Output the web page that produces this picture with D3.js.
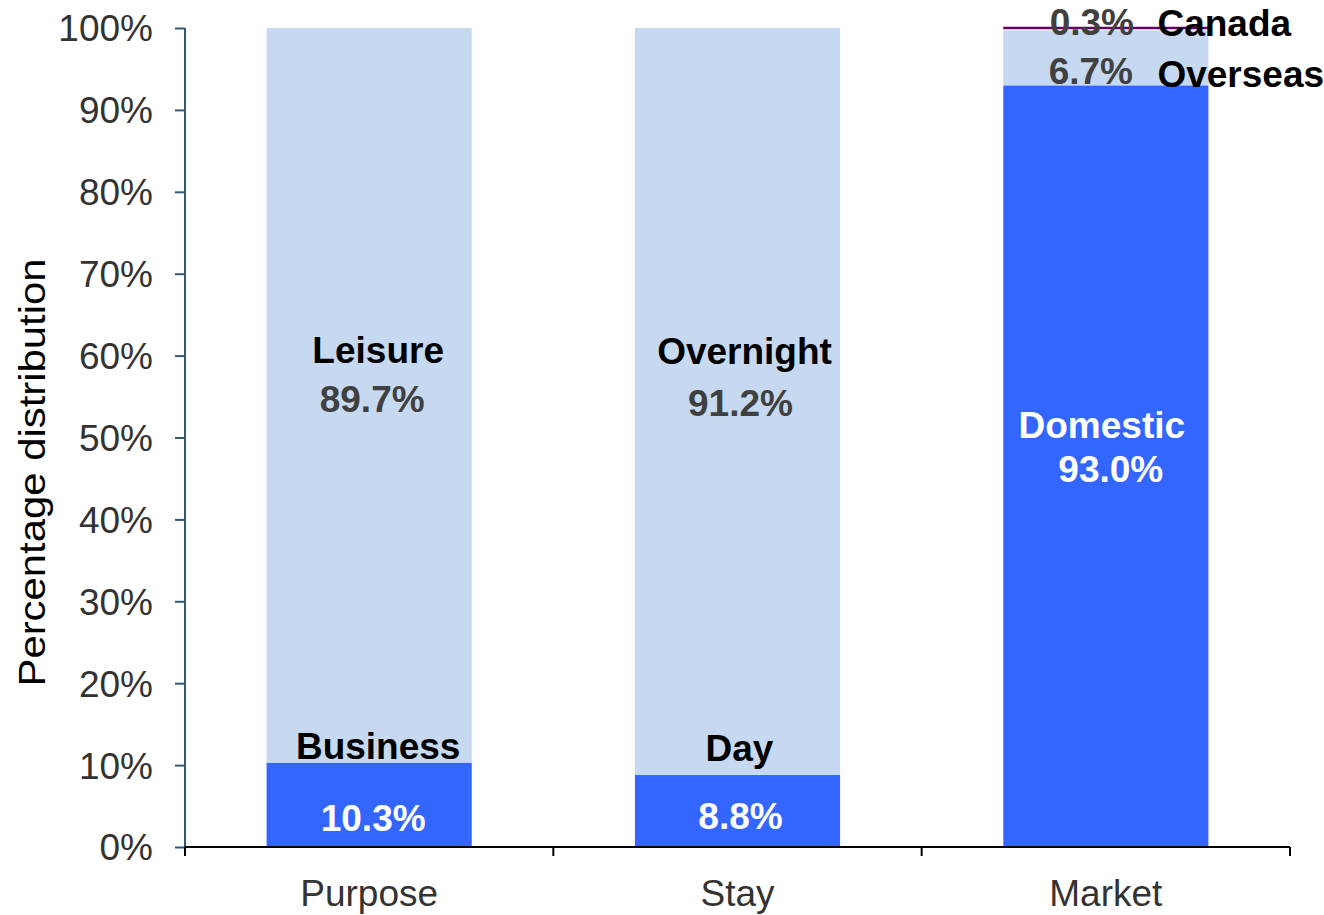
<!DOCTYPE html>
<html>
<head>
<meta charset="utf-8">
<script src="https://cdn.jsdelivr.net/npm/d3@7"></script>
<style>
  body { margin: 0; background: #fff; }
  text { font-family: "Liberation Sans", Arial, sans-serif; }
</style>
</head>
<body>
<div id="chart"></div>
<script>
// data
var categories = ["Purpose", "Stay", "Market"];
var lowerNames = ["Business", "Day", "Domestic"];
var lowerValues = [10.3, 8.8, 93.0];
var upperNames = ["Leisure", "Overnight", "Overseas"];
var upperValues = [89.7, 91.2, 6.7];
var canadaValue = 0.3;
var yTicks = [0, 10, 20, 30, 40, 50, 60, 70, 80, 90, 100];

var margin = { top: 28, right: 34, bottom: 68, left: 185 };
var width = 1324 - margin.left - margin.right;
var height = 915 - margin.top - margin.bottom;

var svg = d3.select("#chart").append("svg")
    .attr("width", 1324)
    .attr("height", 915)
    .append("g")
    .attr("transform", "translate(" + margin.left + "," + margin.top + ")");

var x = d3.scaleBand().domain(categories).range([0, width]).paddingInner(0.443).paddingOuter(0.2215);
var y = d3.scaleLinear().domain([0, 100]).range([height, 0]);

var dark = "#3366FF", light = "#C6D9F1";

// bars
categories.forEach(function(c, i) {
    svg.append("rect")
        .attr("x", x(c)).attr("width", x.bandwidth())
        .attr("y", y(lowerValues[i])).attr("height", y(0) - y(lowerValues[i]))
        .attr("fill", dark);
    svg.append("rect")
        .attr("x", x(c)).attr("width", x.bandwidth())
        .attr("y", y(lowerValues[i] + upperValues[i]))
        .attr("height", y(lowerValues[i]) - y(lowerValues[i] + upperValues[i]))
        .attr("fill", light);
});
// Canada sliver
svg.append("line")
    .attr("x1", x("Market")).attr("x2", x("Market") + x.bandwidth())
    .attr("y1", y(100)).attr("y2", y(100))
    .attr("stroke", "#660066").attr("stroke-width", 2.5);

// y axis
var yAxis = svg.append("g")
    .call(d3.axisLeft(y).tickValues(yTicks).tickSize(10).tickPadding(22).tickFormat(d => d + "%"));
yAxis.select(".domain").attr("stroke", "#2e5a78").attr("stroke-width", 2).attr("d", "M0," + y(100) + "V" + y(0));
yAxis.selectAll(".tick line").attr("stroke", "#2e5a78").attr("stroke-width", 2);
yAxis.selectAll(".tick text").attr("fill", "#333").style("font-size", "37px").attr("dy", "0.35em");

// x axis
var xAxis = svg.append("g").attr("transform", "translate(0," + height + ")");
xAxis.append("line").attr("x1", 0).attr("x2", width).attr("stroke", "#000").attr("stroke-width", 2);
[0, 1, 2, 3].forEach(function(k) {
    var px = k * (width / 3);
    xAxis.append("line").attr("x1", px).attr("x2", px).attr("y1", 0).attr("y2", 9)
        .attr("stroke", "#000").attr("stroke-width", 2);
});
categories.forEach(function(c) {
    xAxis.append("text")
        .attr("x", x(c) + x.bandwidth() / 2).attr("y", 59)
        .attr("text-anchor", "middle").attr("fill", "#333")
        .style("font-size", "37px").text(c);
});

// y title
svg.append("text")
    .attr("transform", "rotate(-90)")
    .attr("x", -(y(0) + y(100)) / 2 - 35).attr("y", -margin.left + 45)
    .attr("text-anchor", "middle").attr("fill", "#000")
    .style("font-size", "37px")
    .attr("textLength", 428).attr("lengthAdjust", "spacingAndGlyphs")
    .text("Percentage distribution");

// labels
function label(px, py, txt, fill, anchor) {
    svg.append("text").attr("x", px).attr("y", py)
        .attr("text-anchor", anchor || "middle").attr("fill", fill)
        .style("font-size", "37px").style("font-weight", "bold").text(txt);
}
var fmt = v => v.toFixed(1) + "%";
function cx(c) { return x(c) + x.bandwidth() / 2; }

// Purpose
label(cx("Purpose") + 9, y(lowerValues[0]) - 4, lowerNames[0], "#000");
label(cx("Purpose") + 4, y(0) - 16, fmt(lowerValues[0]), "#fff");
label(cx("Purpose") + 9, y(lowerValues[0] + upperValues[0] / 2) - 32, upperNames[0], "#000");
label(cx("Purpose") + 3, y(lowerValues[0] + upperValues[0] / 2) + 17, fmt(upperValues[0]), "#404040");
// Stay
label(cx("Stay") + 2, y(lowerValues[1]) - 14, lowerNames[1], "#000");
label(cx("Stay") + 3, y(0) - 18, fmt(lowerValues[1]), "#fff");
label(cx("Stay") + 7, y(lowerValues[1] + upperValues[1] / 2) - 37, upperNames[1], "#000");
label(cx("Stay") + 3, y(lowerValues[1] + upperValues[1] / 2) + 15, fmt(upperValues[1]), "#404040");
// Market
label(cx("Market") - 4, y(lowerValues[2] / 2) - 28, lowerNames[2], "#fff");
label(cx("Market") + 5, y(lowerValues[2] / 2) + 16, fmt(lowerValues[2]), "#fff");
label(cx("Market") - 14, y(100) + 7, fmt(canadaValue), "#404040");
label(x("Market") + x.bandwidth() - 51, y(100) + 8, "Canada", "#000", "start");
label(cx("Market") - 15, y(lowerValues[2]) - 1, fmt(upperValues[2]), "#404040");
label(x("Market") + x.bandwidth() - 51, y(lowerValues[2]) + 2, upperNames[2], "#000", "start");
</script>
</body>
</html>
